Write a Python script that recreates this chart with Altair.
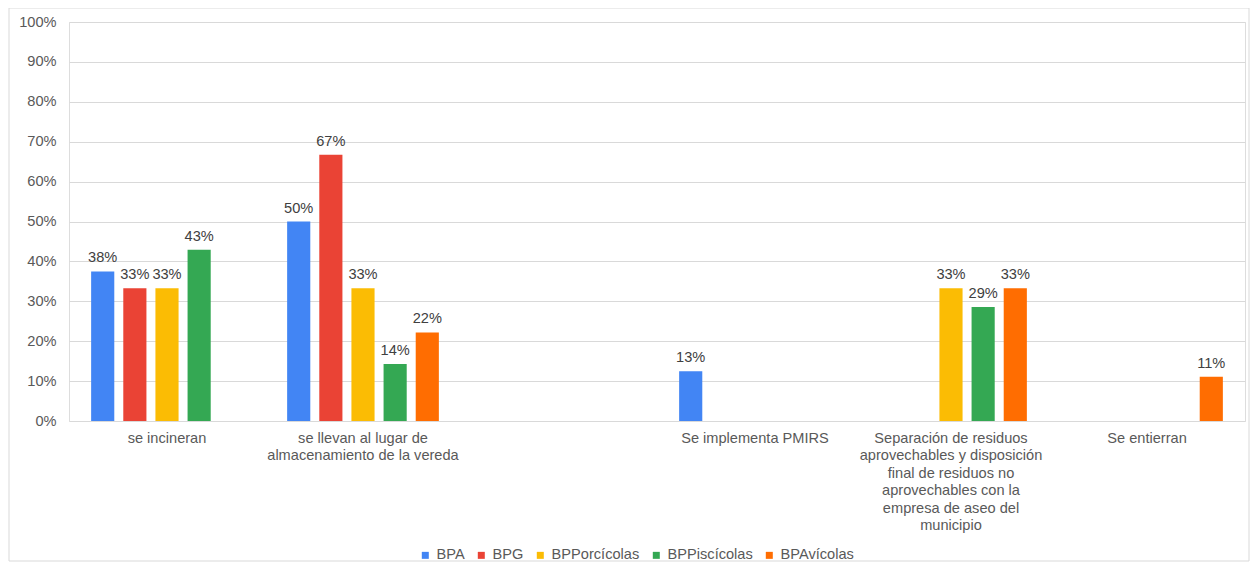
import altair as alt
import pandas as pd

categories = [
    "se incineran",
    "se llevan al lugar de\nalmacenamiento de la vereda",
    " ",
    "Se implementa PMIRS",
    "Separación de residuos\naprovechables y disposición\nfinal de residuos no\naprovechables con la\nempresa de aseo del\nmunicipio",
    "Se entierran",
]
series = ["BPA", "BPG", "BPPorcícolas", "BPPiscícolas", "BPAvícolas"]
colors = ["#4285F4", "#EA4335", "#FBBC04", "#34A853", "#FF6D01"]
y_ticks = [0.0, 0.1, 0.2, 0.3, 0.4, 0.5, 0.6, 0.7, 0.8, 0.9, 1.0]

# values per series, aligned with categories (None = no bar)
BPA = [0.375, 0.50, None, 0.125, None, None]
BPG = [0.333, 0.667, None, None, None, None]
BPPorc = [0.333, 0.333, None, None, 0.333, None]
BPPisc = [0.429, 0.143, None, None, 0.286, None]
BPAv = [None, 0.222, None, None, 0.333, 0.111]

rows = []
for s, vals in zip(series, [BPA, BPG, BPPorc, BPPisc, BPAv]):
    for c, v in zip(categories, vals):
        if v is not None:
            rows.append({"cat": c, "serie": s, "valor": v})
df = pd.DataFrame(rows)

FONT = "Liberation Sans"
FS = 14.6
W, H = 1176, 399

x_enc = alt.X(
    "cat:N",
    sort=categories,
    scale=alt.Scale(domain=categories, paddingInner=0.18, paddingOuter=0.09),
    axis=alt.Axis(
        title=None,
        labelAngle=0,
        domain=False,
        ticks=False,
        labelPadding=9,
        labelFont=FONT,
        labelFontSize=FS,
        labelColor="#595959",
        labelLineHeight=17.5,
        labelBaseline="top",
        labelLimit=300,
        labelExpr="split(datum.label, '\\n')",
    ),
)
xo_enc = alt.XOffset(
    "serie:N",
    sort=series,
    scale=alt.Scale(domain=series, paddingInner=0.28, paddingOuter=0.14),
)
y_enc = alt.Y(
    "valor:Q",
    scale=alt.Scale(domain=[0, 1], nice=False),
    axis=alt.Axis(
        title=None,
        format=".0%",
        values=y_ticks,
        tickCount=20,
        labelOverlap=False,
        domain=False,
        ticks=False,
        labelPadding=13,
        labelFont=FONT,
        labelFontSize=FS,
        labelColor="#595959",
        gridColor="#d9d9d9",
        gridWidth=1,
    ),
)

base = alt.Chart(df)
bars = base.mark_bar().encode(
    x=x_enc,
    xOffset=xo_enc,
    y=y_enc,
    color=alt.Color(
        "serie:N",
        sort=series,
        scale=alt.Scale(domain=series, range=colors),
        legend=alt.Legend(
            title=None,
            orient="none",
            direction="horizontal",
            legendX=349,
            legendY=526,
            symbolType="square",
            symbolSize=49,
            symbolStrokeWidth=0,
            labelFont=FONT,
            labelFontSize=FS,
            labelColor="#595959",
            columnPadding=9,
            labelOffset=4,
        ),
    ),
)
labels = base.mark_text(
    baseline="alphabetic", dy=-9, font=FONT, fontSize=FS, color="#404040"
).encode(
    x=x_enc,
    xOffset=xo_enc,
    y=y_enc,
    text=alt.Text("valor:Q", format=".0%"),
)
border = alt.Chart(pd.DataFrame({"a": [0]})).mark_rect(
    fill=None, stroke="#d9d9d9", strokeWidth=1
).encode(
    x=alt.value(-60), x2=alt.value(W + 4), y=alt.value(-14), y2=alt.value(H + 140)
)

chart = (
    alt.layer(bars, labels, border)
    .properties(
        width=W,
        height=H,
        padding={"left": 61, "top": 14, "right": 5, "bottom": 142},
        autosize=alt.AutoSizeParams(type="none"),
    )
    .configure_view(stroke=None)
    .configure(background="white")
)

chart.save("out.html", embed_options={"renderer": "svg", "actions": False})
